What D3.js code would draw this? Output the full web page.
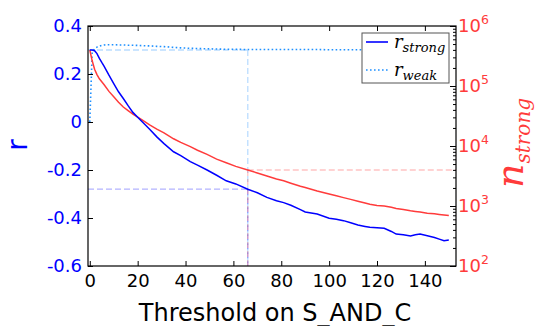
<!DOCTYPE html>
<html><head><meta charset="utf-8">
<script src="https://cdn.jsdelivr.net/npm/d3@7"></script>
<style>body{margin:0;background:#fff}svg{display:block}</style>
</head><body>
<svg id="c" width="539" height="326"></svg>
<script>
const thresholds = [0,1,2,3,4,5,6,8,10,12,14,16,18,20,22,25,28,31,35,38,42,45,49,53,57,61,66,70,74,78,81,84,88,90,95,100,103,106,109,112,115,117,120,123,126,128,131,134,136,138,141,144,146,148,150];
const rStrong = [0.300,0.300,0.297,0.285,0.265,0.248,0.232,0.195,0.160,0.126,0.098,0.068,0.040,0.020,0.000,-0.030,-0.062,-0.090,-0.124,-0.140,-0.165,-0.180,-0.200,-0.222,-0.245,-0.258,-0.280,-0.295,-0.314,-0.328,-0.336,-0.347,-0.365,-0.375,-0.383,-0.401,-0.405,-0.411,-0.420,-0.429,-0.435,-0.439,-0.441,-0.443,-0.456,-0.467,-0.470,-0.475,-0.470,-0.467,-0.474,-0.481,-0.488,-0.495,-0.492];
const rWeak = [0.000,0.290,0.305,0.312,0.316,0.319,0.321,0.322,0.322,0.321,0.321,0.320,0.320,0.319,0.318,0.317,0.315,0.314,0.311,0.309,0.307,0.306,0.305,0.304,0.303,0.303,0.302,0.302,0.302,0.302,0.302,0.302,0.302,0.302,0.302,0.301,0.301,0.301,0.301,0.301,0.301,0.301,0.301,0.301,0.301,0.301,0.301,0.301,0.301,0.301,0.301,0.301,0.301,0.301,0.301];
const nStrong = [398000,263000,190500,155000,132000,117500,104700,81300,66100,53700,44700,38900,33900,30200,26900,22400,19100,16600,13200,11500,9770,8510,7240,6030,5250,4570,3980,3550,3160,2820,2630,2400,2140,2040,1780,1580,1480,1380,1290,1200,1120,1070,1020,1000,955,912,871,832,813,794,759,741,724,708,692];
const xTicks = [0,20,40,60,80,100,120,140];
const yLeftTicks = [0.4,0.2,0,-0.2,-0.4,-0.6];
const yLeftLabels = ["0.4","0.2","0","-0.2","-0.4","-0.6"];
const yRightExps = [2,3,4,5,6];
const chosenThreshold = 66;
const chosenRStrong = -0.28;
const chosenRWeak = 0.300;
const chosenN = 3980;
const xTitle = "Threshold on S_AND_C";

const BLUE = "#0000ff", RED = "#ff3b3b", LBLUE = "#1e90ff";
const svg = d3.select("#c");
const L = 88, R = 456, T = 26, B = 266;
const x = d3.scaleLinear().domain([-0.75, 153]).range([L, R]);
const yL = d3.scaleLinear().domain([-0.6, 0.4]).range([B, T]);
const yR = d3.scaleLog().domain([100, 1e6]).range([B, T]);

// reference lines
const ref = svg.append("g").attr("stroke-width", 1.3).attr("stroke-dasharray", "6,3").attr("fill", "none");
ref.append("line").attr("x1", L).attr("x2", x(chosenThreshold)).attr("y1", yL(chosenRWeak)).attr("y2", yL(chosenRWeak)).attr("stroke", LBLUE).attr("stroke-opacity", 0.3).attr("stroke-dasharray", null);
ref.append("line").attr("x1", x(chosenThreshold)).attr("x2", x(chosenThreshold)).attr("y1", yL(chosenRWeak)).attr("y2", B).attr("stroke", LBLUE).attr("stroke-opacity", 0.3);
ref.append("line").attr("x1", L).attr("x2", x(chosenThreshold)).attr("y1", yL(chosenRStrong)).attr("y2", yL(chosenRStrong)).attr("stroke", BLUE).attr("stroke-opacity", 0.3);
ref.append("line").attr("x1", x(chosenThreshold)).attr("x2", x(chosenThreshold)).attr("y1", yL(chosenRStrong)).attr("y2", B).attr("stroke", BLUE).attr("stroke-opacity", 0.3);
ref.append("line").attr("x1", x(chosenThreshold)).attr("x2", R).attr("y1", yR(chosenN)).attr("y2", yR(chosenN)).attr("stroke", RED).attr("stroke-opacity", 0.3);
ref.append("line").attr("x1", x(chosenThreshold)).attr("x2", x(chosenThreshold)).attr("y1", yR(chosenN)).attr("y2", B).attr("stroke", RED).attr("stroke-opacity", 0.3);

// series
const idx = d3.range(thresholds.length);
svg.append("path").datum(idx).attr("fill","none").attr("stroke",LBLUE).attr("stroke-width",1.6).attr("stroke-dasharray","1.6,2.4")
  .attr("d", d3.line().x(i=>x(thresholds[i])).y(i=>yL(rWeak[i])));
svg.append("path").datum(idx).attr("fill","none").attr("stroke",RED).attr("stroke-width",1.5)
  .attr("d", d3.line().x(i=>x(thresholds[i])).y(i=>yR(nStrong[i])));
svg.append("path").datum(idx).attr("fill","none").attr("stroke",BLUE).attr("stroke-width",1.5)
  .attr("d", d3.line().x(i=>x(thresholds[i])).y(i=>yL(rStrong[i])));

// axes
function clean(g){ g.select(".domain").remove(); g.selectAll("line").attr("stroke","#000"); }
svg.append("g").attr("transform",`translate(0,${B})`)
  .call(d3.axisBottom(x).tickValues(xTicks).tickSize(-5).tickPadding(8).tickFormat(d3.format("d")))
  .call(clean).call(g=>g.selectAll("text").attr("font-family","DejaVu Sans").attr("font-size",18).attr("fill","#000"));
svg.append("g").attr("transform",`translate(0,${T})`)
  .call(d3.axisTop(x).tickValues(xTicks).tickSize(-5).tickFormat(""))
  .call(clean);
svg.append("g").attr("transform",`translate(${L},0)`)
  .call(d3.axisLeft(yL).tickValues(yLeftTicks).tickSize(-5).tickPadding(6).tickFormat((d,i)=>yLeftLabels[i]))
  .call(clean).call(g=>g.selectAll("text").attr("font-family","DejaVu Sans").attr("font-size",18).attr("fill",BLUE));
const majors = yRightExps.map(e=>Math.pow(10,e));
const minors = [];
yRightExps.slice(0,-1).forEach(e=>{ for(let k=2;k<=9;k++) minors.push(k*Math.pow(10,e)); });
svg.append("g").attr("transform",`translate(${R},0)`)
  .call(d3.axisRight(yR).tickValues(majors).tickSize(-6).tickFormat(""))
  .call(clean);
svg.append("g").attr("transform",`translate(${R},0)`)
  .call(d3.axisRight(yR).tickValues(minors).tickSize(-3).tickFormat(""))
  .call(clean);
const rl = svg.append("g").attr("font-family","DejaVu Sans").attr("fill",RED);
majors.forEach((v,i)=>{
  const t = rl.append("text").attr("x", R+2).attr("y", yR(v)).attr("dy","0.36em").attr("font-size",18);
  t.append("tspan").text("10");
  t.append("tspan").attr("dy",-8).attr("font-size",12.5).text(String(yRightExps[i]));
});
svg.append("rect").attr("x",L).attr("y",T).attr("width",R-L).attr("height",B-T).attr("fill","none").attr("stroke","#000").attr("stroke-width",1.2);

// titles
svg.append("text").attr("x",(L+R)/2+3).attr("y",321).attr("text-anchor","middle").attr("font-family","DejaVu Sans").attr("font-size",24).attr("fill","#000").text(xTitle);
svg.append("text").attr("transform","translate(27,145) rotate(-90)").attr("text-anchor","middle").attr("font-family","DejaVu Sans").attr("font-size",28).attr("fill",BLUE).text("r");
const nl = svg.append("text").attr("transform","translate(523,188) rotate(-90)").attr("font-family","DejaVu Serif").attr("font-style","italic").attr("fill",RED);
nl.append("tspan").attr("font-size",38).text("n");
nl.append("tspan").attr("font-size",20).attr("dy",7).text("strong");

// legend
const lg = svg.append("g");
lg.append("rect").attr("x",362).attr("y",33).attr("width",87).attr("height",50).attr("fill","#fff").attr("stroke","#555").attr("stroke-width",1);
const entries = [{c:BLUE,dash:null,sub:"strong",y:42},{c:LBLUE,dash:"1.6,2.4",sub:"weak",y:70}];
entries.forEach(e=>{
  lg.append("line").attr("x1",366).attr("x2",388).attr("y1",e.y).attr("y2",e.y).attr("stroke",e.c).attr("stroke-width",1.6).attr("stroke-dasharray",e.dash);
  const t = lg.append("text").attr("x",394).attr("y",e.y+6).attr("font-family","DejaVu Serif").attr("font-style","italic").attr("fill","#000");
  t.append("tspan").attr("font-size",18).text("r");
  t.append("tspan").attr("font-size",13).attr("dy",4).text(e.sub);
});
</script>
</body></html>
